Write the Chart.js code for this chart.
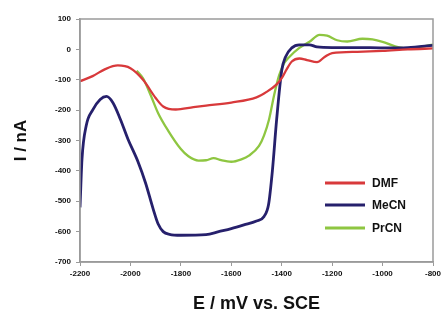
<!DOCTYPE html>
<html>
<head>
<meta charset="utf-8">
<script src="https://cdn.jsdelivr.net/npm/chart.js@4/dist/chart.umd.min.js"></script>
<style>
    html, body { margin: 0; padding: 0; background: #fff; }
    #wrap { width: 446px; height: 323px; }
</style>
</head>
<body>
<div id="wrap"><canvas id="cv" width="446" height="323"></canvas></div>
<script>
// 電位 (mV) と電流 (nA) の読み取り値
const dmfE = [-2200, -2150, -2100, -2050, -2000, -1950, -1900, -1870, -1820, -1750, -1700, -1600, -1500, -1460, -1420, -1400, -1380, -1360, -1330, -1300, -1260, -1230, -1200, -1100, -1000, -900, -800];
const dmfI = [-105, -88, -65, -53, -62, -100, -160, -188, -198, -190, -185, -175, -158, -140, -115, -95, -65, -40, -30, -35, -42, -25, -12, -8, -5, 0, 3];

const mecnE = [-2200, -2192, -2175, -2150, -2120, -2095, -2070, -2040, -2010, -1970, -1940, -1910, -1890, -1870, -1845, -1800, -1700, -1650, -1600, -1550, -1500, -1470, -1452, -1437, -1420, -1400, -1385, -1360, -1330, -1290, -1260, -1200, -1100, -1000, -900, -800];
const mecnI = [-520, -360, -250, -200, -165, -155, -175, -230, -295, -370, -440, -525, -575, -600, -609, -612, -610, -600, -590, -578, -565, -550, -510, -400, -230, -70, -25, 5, 15, 15, 8, 6, 6, 5, 6, 13];

const prcnE = [-1975, -1950, -1920, -1890, -1850, -1800, -1770, -1730, -1700, -1670, -1640, -1600, -1560, -1530, -1490, -1470, -1450, -1430, -1410, -1390, -1370, -1330, -1290, -1250, -1220, -1180, -1140, -1080, -1040, -1000, -950, -900, -850, -800];
const prcnI = [-70, -95, -150, -210, -268, -328, -352, -366, -365, -358, -365, -370, -362, -350, -318, -283, -230, -150, -85, -45, -25, 5, 25, 48, 45, 30, 26, 35, 33, 25, 10, 3, 8, 16];

const seriesNames = ['DMF', 'MeCN', 'PrCN'];
const seriesColors = ['#d8393b', '#26206c', '#8ec641'];

function toPoints(xs, ys) {
    return xs.map((x, i) => ({ x: x, y: ys[i] }));
}

const lineData = [toPoints(dmfE, dmfI), toPoints(mecnE, mecnI), toPoints(prcnE, prcnI)];

// 枠線と凡例をプロット内に描く
const framePlugin = {
    id: 'frame',
    afterDraw(chart) {
        const { ctx, chartArea } = chart;
        ctx.save();
        ctx.strokeStyle = '#9a9a9a';
        ctx.lineWidth = 1.5;
        ctx.strokeRect(chartArea.left, chartArea.top, chartArea.right - chartArea.left, chartArea.bottom - chartArea.top);

        const legendY = [183, 205, 228];
        chart.data.datasets.forEach((ds, i) => {
            ctx.strokeStyle = ds.borderColor;
            ctx.lineWidth = 3;
            ctx.beginPath();
            ctx.moveTo(325, legendY[i]);
            ctx.lineTo(365, legendY[i]);
            ctx.stroke();
            ctx.fillStyle = '#111';
            ctx.font = 'bold 12px "Liberation Sans", Arial, sans-serif';
            ctx.textBaseline = 'middle';
            ctx.fillText(ds.label, 372, legendY[i] + 1);
        });
        ctx.restore();
    }
};

const tickFont = { family: '"Liberation Sans", Arial, sans-serif', size: 8, weight: 'bold' };
const plainTick = (v) => String(v);

new Chart(document.getElementById('cv').getContext('2d'), {
    type: 'line',
    data: {
        datasets: lineData.map((pts, i) => ({
            label: seriesNames[i],
            data: pts,
            borderColor: seriesColors[i],
            borderWidth: i === 1 ? 2.8 : 2.3,
            pointRadius: 0,
            fill: false,
            cubicInterpolationMode: 'monotone'
        }))
    },
    options: {
        responsive: false,
        animation: false,
        layout: { padding: { left: 7, right: 13, top: 19, bottom: 4 } },
        plugins: {
            legend: { display: false },
            tooltip: { enabled: false }
        },
        scales: {
            x: {
                type: 'linear',
                min: -2200,
                max: -800,
                ticks: { stepSize: 200, color: '#111', font: tickFont, padding: 3, maxRotation: 0, callback: plainTick },
                grid: { drawOnChartArea: false, tickLength: 4, color: '#9a9a9a' },
                border: { color: '#9a9a9a', width: 1.5 },
                title: {
                    display: true,
                    text: 'E / mV vs. SCE',
                    color: '#111',
                    font: { family: '"Liberation Sans", Arial, sans-serif', size: 18, weight: 'bold' }
                },
                afterFit(scale) { scale.height = 57; }
            },
            y: {
                min: -700,
                max: 100,
                ticks: { stepSize: 100, color: '#111', font: tickFont, padding: 5, callback: plainTick },
                grid: { drawOnChartArea: false, tickLength: 4, color: '#9a9a9a' },
                border: { color: '#9a9a9a', width: 1.5 },
                title: {
                    display: true,
                    text: 'I / nA',
                    color: '#111',
                    font: { family: '"Liberation Sans", Arial, sans-serif', size: 17, weight: 'bold' }
                },
                afterFit(scale) { scale.width = 73; }
            }
        }
    },
    plugins: [framePlugin]
});
</script>
</body>
</html>
